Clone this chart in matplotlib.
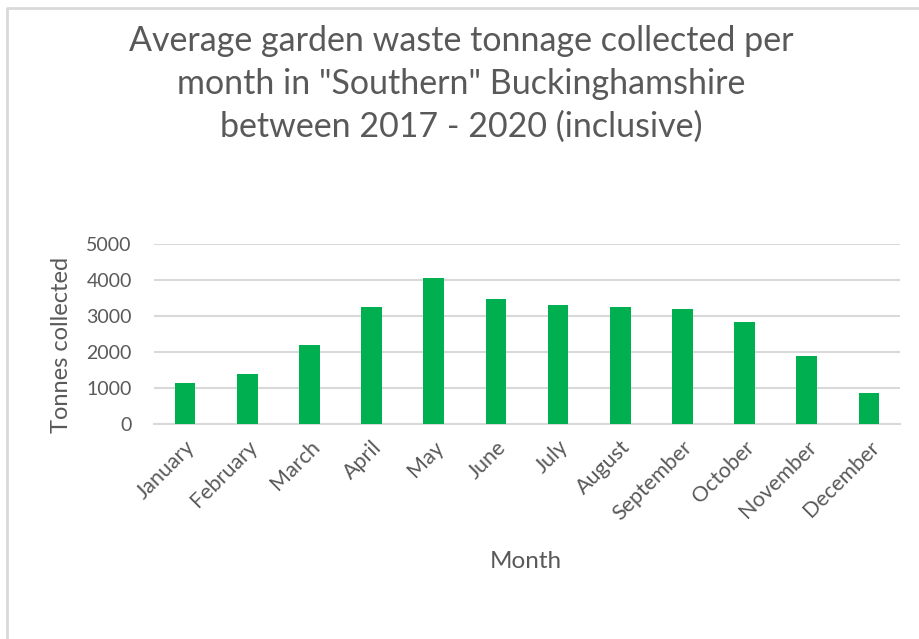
import matplotlib.pyplot as plt
import numpy as np

# valores
months = ['January', 'February', 'March', 'April', 'May', 'June', 'July',
          'August', 'September', 'October', 'November', 'December']
tonnes = [1155, 1405, 2195, 3260, 4070, 3470, 3295, 3260, 3185, 2835, 1905, 870]
yticks = [0, 1000, 2000, 3000, 4000, 5000]

plt.rcParams['font.family'] = ['Lato', 'DejaVu Sans']
gray = '#595959'

fig = plt.figure(figsize=(9.19, 6.39), dpi=100)
ax = fig.add_axes([154 / 919, 1 - 424.3 / 639, 746 / 919, 180.3 / 639])

# borde del area del grafico
fig.add_artist(plt.Line2D([7 / 919, 7 / 919, 1.01], [-0.01, 1 - 8 / 639, 1 - 8 / 639],
                          transform=fig.transFigure, color='#d9d9d9', lw=2))

x = np.arange(len(months))
ax.bar(x, tonnes, width=0.33, color='#00b050', zorder=3)
ax.set_xlim(-0.5, len(months) - 0.5)
ax.set_ylim(0, 5000)
ax.set_yticks(yticks)
ax.set_xticks(x)
ax.set_xticklabels(months, rotation=45, ha='right', rotation_mode='anchor')
ax.tick_params(axis='both', length=0, colors=gray)
ax.tick_params(axis='y', pad=16, labelsize=14)
ax.tick_params(axis='x', pad=9, labelsize=15.5)
ax.grid(axis='y', color='#d9d9d9', lw=1.5, zorder=0)
for s in ['top', 'right', 'left']:
    ax.spines[s].set_visible(False)
ax.spines['bottom'].set_color('#d9d9d9')
ax.spines['bottom'].set_linewidth(1.5)

fig.text(62 / 919, 1 - 345 / 639, 'Tonnes collected', color=gray, fontsize=17,
         rotation=90, ha='center', va='center')
fig.text(526 / 919, 1 - 561 / 639, 'Month', color=gray, fontsize=17.5, ha='center', va='center')
fig.text(461 / 919, 1 - 84 / 639,
         'Average garden waste tonnage collected per\nmonth in "Southern" Buckinghamshire\nbetween 2017 - 2020 (inclusive)',
         color=gray, fontsize=24.5, ha='center', va='center', linespacing=1.42)

fig.savefig('out.png', dpi=100)
